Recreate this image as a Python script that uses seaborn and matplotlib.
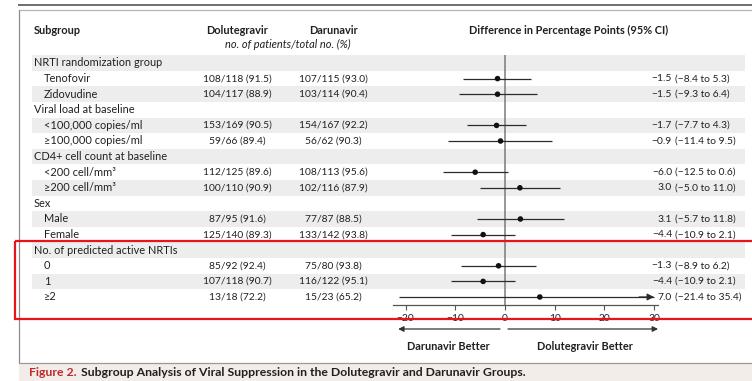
import numpy as np
import pandas as pd
import matplotlib
matplotlib.use("Agg")
import matplotlib.pyplot as plt
import seaborn as sns
from matplotlib.patches import Rectangle
from matplotlib.transforms import blended_transform_factory

# ---- data ---------------------------------------------------------------
subgroups = [
    "NRTI randomization group", "Tenofovir", "Zidovudine",
    "Viral load at baseline", "<100,000 copies/ml", "≥100,000 copies/ml",
    "CD4+ cell count at baseline", "<200 cell/mm³", "≥200 cell/mm³",
    "Sex", "Male", "Female",
    "No. of predicted active NRTIs", "0", "1", "≥2",
]
is_heading = [1, 0, 0, 1, 0, 0, 1, 0, 0, 1, 0, 0, 1, 0, 0, 0]
dolutegravir = ["", "108/118 (91.5)", "104/117 (88.9)", "", "153/169 (90.5)", "59/66 (89.4)",
                "", "112/125 (89.6)", "100/110 (90.9)", "", "87/95 (91.6)", "125/140 (89.3)",
                "", "85/92 (92.4)", "107/118 (90.7)", "13/18 (72.2)"]
darunavir = ["", "107/115 (93.0)", "103/114 (90.4)", "", "154/167 (92.2)", "56/62 (90.3)",
             "", "108/113 (95.6)", "102/116 (87.9)", "", "77/87 (88.5)", "133/142 (93.8)",
             "", "75/80 (93.8)", "116/122 (95.1)", "15/23 (65.2)"]
nan = np.nan
difference = [nan, -1.5, -1.5, nan, -1.7, -0.9, nan, -6.0, 3.0, nan, 3.1, -4.4, nan, -1.3, -4.4, 7.0]
ci_low = [nan, -8.4, -9.3, nan, -7.7, -11.4, nan, -12.5, -5.0, nan, -5.7, -10.9, nan, -8.9, -10.9, -21.4]
ci_high = [nan, 5.3, 6.4, nan, 4.3, 9.5, nan, 0.6, 11.0, nan, 11.8, 2.1, nan, 6.2, 2.1, 35.4]
x_ticks = [-20, -10, 0, 10, 20, 30]
axis_max = 30

df = pd.DataFrame({
    "row": np.arange(len(subgroups)),
    "label": subgroups,
    "heading": is_heading,
    "dtg": dolutegravir,
    "drv": darunavir,
    "diff": difference,
    "lo": ci_low,
    "hi": ci_high,
})
est = df.dropna(subset=["diff"])

# ---- figure -------------------------------------------------------------
sns.set_theme(style="white")
plt.rcParams["font.family"] = ["Lato", "DejaVu Sans"]
INK = "#231f20"
FS = 7.9      # labels and headings
FSN = 7.4     # numeric columns

W, H, DPI = 752, 381, 100
fig = plt.figure(figsize=(W / DPI, H / DPI), dpi=DPI)
fig.patch.set_facecolor("white")

# page layer in pixel units
bg = fig.add_axes([0, 0, 1, 1], zorder=0)
bg.set_xlim(0, W)
bg.set_ylim(H, 0)
bg.axis("off")

ROW0, PITCH = 63.0, 15.6


def row_y(i):
    return ROW0 + PITCH * i


# forest-plot axes: zero at x=505 px, ~4.97 px per percentage point
X0_PX, SCALE = 505.0, 4.97
LEFT_PX, RIGHT_PX, TOP_PX, BOT_PX = 380, 752, 55, 305
ax = fig.add_axes([LEFT_PX / W, 1 - BOT_PX / H, (RIGHT_PX - LEFT_PX) / W, (BOT_PX - TOP_PX) / H],
                  zorder=1)
ax.patch.set_alpha(0)

# frame lines and caption strip
bg.plot([18, W], [5, 5], color="#6e6e6e", lw=1.4, solid_capstyle="butt")
bg.plot([19, W], [10, 10], color="#b4b4b4", lw=0.9, solid_capstyle="butt")
bg.plot([19, 19], [10, 363], color="#8c8c8c", lw=0.9)
bg.add_patch(Rectangle((19, 363), W - 19, H - 363, facecolor="#f2ede9", edgecolor="none"))
bg.plot([19, W], [363, 363], color="#9a9a9a", lw=0.9)

# alternating row bands
for i in df["row"]:
    if i % 2 == 0:
        bg.add_patch(Rectangle((32, row_y(i) - PITCH / 2), 745 - 32, PITCH,
                               facecolor="#ededed", edgecolor="none"))

# column headings
bg.text(34, 30, "Subgroup", fontsize=FS, fontweight="bold", color=INK, va="center")
bg.text(237, 30, "Dolutegravir", fontsize=FS, fontweight="bold", color=INK, va="center", ha="center")
bg.text(333, 30, "Darunavir", fontsize=FS, fontweight="bold", color=INK, va="center", ha="center")
bg.text(288, 44.5, "no. of patients/total no. (%)", fontsize=FS, style="italic", color=INK,
        va="center", ha="center")
bg.text(569, 30, "Difference in Percentage Points (95% CI)", fontsize=FS, fontweight="bold",
        color=INK, va="center", ha="center")


def fmt(v):
    return f"{v:.1f}".replace("-", "\u2212")


# table text
for _, r in df.iterrows():
    y = row_y(r["row"])
    bg.text(34 if r["heading"] else 44, y, r["label"], fontsize=FS, color=INK, va="center")
    if r["dtg"]:
        bg.text(237, y, r["dtg"], fontsize=FSN, color=INK, va="center", ha="center")
        bg.text(333, y, r["drv"], fontsize=FSN, color=INK, va="center", ha="center")
    if not np.isnan(r["diff"]):
        bg.text(672, y, fmt(r["diff"]), fontsize=FSN, color=INK, va="center", ha="right")
        bg.text(675, y, f"({fmt(r['lo'])} to {fmt(r['hi'])})", fontsize=FSN, color=INK,
                va="center", ha="left")

# zero line, confidence intervals and point estimates
ax.axvline(0, color="#7a7a7a", lw=1.1, zorder=1)
ax.hlines(est["row"], est["lo"], np.minimum(est["hi"], axis_max), color="#2b2b2b", lw=0.9, zorder=2)
for _, r in est[est["hi"] > axis_max].iterrows():
    ax.annotate("", xy=(axis_max, r["row"]), xytext=(axis_max - 3, r["row"]),
                arrowprops=dict(arrowstyle="-|>", mutation_scale=10, color="#2b2b2b",
                                lw=0.9, shrinkA=0, shrinkB=0), zorder=2)
sns.scatterplot(data=est, x="diff", y="row", ax=ax, color="#111111", s=16,
                edgecolor="none", zorder=3, legend=False)

ax.set_xlim((LEFT_PX - X0_PX) / SCALE, (RIGHT_PX - X0_PX) / SCALE)
ax.set_ylim((BOT_PX - ROW0) / PITCH, (TOP_PX - ROW0) / PITCH)
ax.set_xlabel("")
ax.set_ylabel("")
ax.set_yticks([])
ax.set_xticks(x_ticks)
ax.tick_params(axis="x", bottom=True, direction="out", length=3.6, width=0.8, color="#555555",
               labelsize=FSN, labelcolor=INK, pad=3.2)
for s in ["top", "left", "right"]:
    ax.spines[s].set_visible(False)
ax.spines["bottom"].set_color("#555555")
ax.spines["bottom"].set_linewidth(0.9)
ax.spines["bottom"].set_bounds(-22.5, 30.8)

# favouring arrows under the axis
tr = blended_transform_factory(ax.transData, bg.transData)
for x_from, x_to in [(-1.0, -21.5), (0.6, 30.8)]:
    ax.annotate("", xy=(x_to, 329), xytext=(x_from, 329), xycoords=tr, textcoords=tr,
                arrowprops=dict(arrowstyle="-|>", mutation_scale=8, color="#333333",
                                lw=0.9, shrinkA=0, shrinkB=0), annotation_clip=False)
ax.text(-11.4, 346, "Darunavir Better", transform=tr, fontsize=FS, fontweight="bold",
        color=INK, ha="center", va="center")
ax.text(16.1, 346, "Dolutegravir Better", transform=tr, fontsize=FS, fontweight="bold",
        color=INK, ha="center", va="center")

# caption
t1 = bg.text(29, 367.5, "Figure 2.", fontsize=8.8, fontweight="bold", color="#c1272d", va="top")
bg.annotate("Subgroup Analysis of Viral Suppression in the Dolutegravir and Darunavir Groups.",
            xy=(1, 0), xycoords=t1, xytext=(3, 0), textcoords="offset points",
            fontsize=8.8, fontweight="bold", color=INK, va="bottom", ha="left")

# highlight box around the NRTI-count subgroup
top = fig.add_axes([0, 0, 1, 1], zorder=5)
top.set_xlim(0, W)
top.set_ylim(H, 0)
top.axis("off")
top.patch.set_alpha(0)
top.add_patch(Rectangle((15, 240.5), W + 20, 78, facecolor="none", edgecolor="#e8141b",
                        lw=1.6, clip_on=False))

fig.savefig("out.png", dpi=DPI)
